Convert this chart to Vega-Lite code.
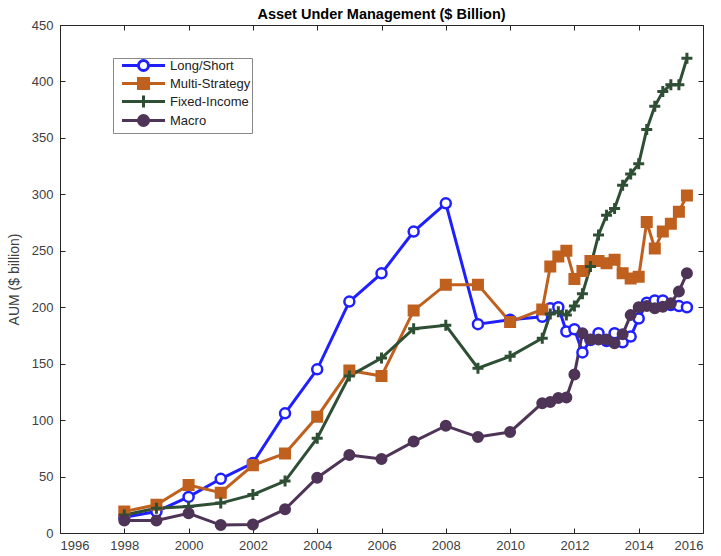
{
  "$schema": "https://vega.github.io/schema/vega-lite/v6.json",
  "width": 643,
  "height": 508,
  "autosize": {"type": "none"},
  "padding": {"left": 60, "top": 25, "right": 18, "bottom": 23},
  "background": "white",
  "config": {
    "view": {"stroke": "#262626", "strokeWidth": 1},
    "font": "Liberation Sans",
    "axis": {"grid": false, "labelFont": "Liberation Sans", "labelFontSize": 13, "labelColor": "#404040", "tickColor": "#262626", "domain": false}
  },
  "title": {"text": "Asset Under Management ($ Billion)", "fontSize": 14.5, "fontWeight": "bold", "font": "Liberation Sans", "color": "#000000", "offset": -3},
  "data": {"values": [
    {"series": "Long/Short", "year": 1998, "value": 14},
    {"series": "Long/Short", "year": 1999, "value": 19},
    {"series": "Long/Short", "year": 2000, "value": 32},
    {"series": "Long/Short", "year": 2001, "value": 48},
    {"series": "Long/Short", "year": 2002, "value": 62},
    {"series": "Long/Short", "year": 2003, "value": 106},
    {"series": "Long/Short", "year": 2004, "value": 145},
    {"series": "Long/Short", "year": 2005, "value": 205},
    {"series": "Long/Short", "year": 2006, "value": 230},
    {"series": "Long/Short", "year": 2007, "value": 267},
    {"series": "Long/Short", "year": 2008, "value": 292},
    {"series": "Long/Short", "year": 2009, "value": 185},
    {"series": "Long/Short", "year": 2010, "value": 189},
    {"series": "Long/Short", "year": 2011, "value": 191.5},
    {"series": "Long/Short", "year": 2011.25, "value": 199},
    {"series": "Long/Short", "year": 2011.5, "value": 200},
    {"series": "Long/Short", "year": 2011.75, "value": 178.5},
    {"series": "Long/Short", "year": 2012, "value": 180.5},
    {"series": "Long/Short", "year": 2012.25, "value": 160},
    {"series": "Long/Short", "year": 2012.5, "value": 171},
    {"series": "Long/Short", "year": 2012.75, "value": 177},
    {"series": "Long/Short", "year": 2013, "value": 170},
    {"series": "Long/Short", "year": 2013.25, "value": 177},
    {"series": "Long/Short", "year": 2013.5, "value": 169},
    {"series": "Long/Short", "year": 2013.75, "value": 174},
    {"series": "Long/Short", "year": 2014, "value": 190},
    {"series": "Long/Short", "year": 2014.25, "value": 204},
    {"series": "Long/Short", "year": 2014.5, "value": 206},
    {"series": "Long/Short", "year": 2014.75, "value": 206},
    {"series": "Long/Short", "year": 2015, "value": 202},
    {"series": "Long/Short", "year": 2015.25, "value": 201},
    {"series": "Long/Short", "year": 2015.5, "value": 200},
    {"series": "Multi-Strategy", "year": 1998, "value": 19},
    {"series": "Multi-Strategy", "year": 1999, "value": 25},
    {"series": "Multi-Strategy", "year": 2000, "value": 42.5},
    {"series": "Multi-Strategy", "year": 2001, "value": 35.7},
    {"series": "Multi-Strategy", "year": 2002, "value": 60},
    {"series": "Multi-Strategy", "year": 2003, "value": 70.5},
    {"series": "Multi-Strategy", "year": 2004, "value": 103},
    {"series": "Multi-Strategy", "year": 2005, "value": 144},
    {"series": "Multi-Strategy", "year": 2006, "value": 139},
    {"series": "Multi-Strategy", "year": 2007, "value": 197},
    {"series": "Multi-Strategy", "year": 2008, "value": 220},
    {"series": "Multi-Strategy", "year": 2009, "value": 220},
    {"series": "Multi-Strategy", "year": 2010, "value": 187},
    {"series": "Multi-Strategy", "year": 2011, "value": 198},
    {"series": "Multi-Strategy", "year": 2011.25, "value": 236},
    {"series": "Multi-Strategy", "year": 2011.5, "value": 245},
    {"series": "Multi-Strategy", "year": 2011.75, "value": 250},
    {"series": "Multi-Strategy", "year": 2012, "value": 225},
    {"series": "Multi-Strategy", "year": 2012.25, "value": 232},
    {"series": "Multi-Strategy", "year": 2012.5, "value": 241},
    {"series": "Multi-Strategy", "year": 2012.75, "value": 241},
    {"series": "Multi-Strategy", "year": 2013, "value": 239},
    {"series": "Multi-Strategy", "year": 2013.25, "value": 242},
    {"series": "Multi-Strategy", "year": 2013.5, "value": 230},
    {"series": "Multi-Strategy", "year": 2013.75, "value": 225.5},
    {"series": "Multi-Strategy", "year": 2014, "value": 227},
    {"series": "Multi-Strategy", "year": 2014.25, "value": 275.5},
    {"series": "Multi-Strategy", "year": 2014.5, "value": 252},
    {"series": "Multi-Strategy", "year": 2014.75, "value": 267},
    {"series": "Multi-Strategy", "year": 2015, "value": 274},
    {"series": "Multi-Strategy", "year": 2015.25, "value": 284.5},
    {"series": "Multi-Strategy", "year": 2015.5, "value": 299},
    {"series": "Fixed-Income", "year": 1998, "value": 16},
    {"series": "Fixed-Income", "year": 1999, "value": 22},
    {"series": "Fixed-Income", "year": 2000, "value": 23.5},
    {"series": "Fixed-Income", "year": 2001, "value": 26.5},
    {"series": "Fixed-Income", "year": 2002, "value": 34},
    {"series": "Fixed-Income", "year": 2003, "value": 46},
    {"series": "Fixed-Income", "year": 2004, "value": 84},
    {"series": "Fixed-Income", "year": 2005, "value": 139},
    {"series": "Fixed-Income", "year": 2006, "value": 155},
    {"series": "Fixed-Income", "year": 2007, "value": 181},
    {"series": "Fixed-Income", "year": 2008, "value": 184},
    {"series": "Fixed-Income", "year": 2009, "value": 146},
    {"series": "Fixed-Income", "year": 2010, "value": 156.5},
    {"series": "Fixed-Income", "year": 2011, "value": 172.5},
    {"series": "Fixed-Income", "year": 2011.25, "value": 194},
    {"series": "Fixed-Income", "year": 2011.5, "value": 196},
    {"series": "Fixed-Income", "year": 2011.75, "value": 193},
    {"series": "Fixed-Income", "year": 2012, "value": 201},
    {"series": "Fixed-Income", "year": 2012.25, "value": 212},
    {"series": "Fixed-Income", "year": 2012.5, "value": 236},
    {"series": "Fixed-Income", "year": 2012.75, "value": 264},
    {"series": "Fixed-Income", "year": 2013, "value": 281.5},
    {"series": "Fixed-Income", "year": 2013.25, "value": 287.5},
    {"series": "Fixed-Income", "year": 2013.5, "value": 308},
    {"series": "Fixed-Income", "year": 2013.75, "value": 318},
    {"series": "Fixed-Income", "year": 2014, "value": 327},
    {"series": "Fixed-Income", "year": 2014.25, "value": 357.5},
    {"series": "Fixed-Income", "year": 2014.5, "value": 378},
    {"series": "Fixed-Income", "year": 2014.75, "value": 391},
    {"series": "Fixed-Income", "year": 2015, "value": 397},
    {"series": "Fixed-Income", "year": 2015.25, "value": 397},
    {"series": "Fixed-Income", "year": 2015.5, "value": 420.5},
    {"series": "Macro", "year": 1998, "value": 11},
    {"series": "Macro", "year": 1999, "value": 11},
    {"series": "Macro", "year": 2000, "value": 17.5},
    {"series": "Macro", "year": 2001, "value": 7},
    {"series": "Macro", "year": 2002, "value": 7.5},
    {"series": "Macro", "year": 2003, "value": 21},
    {"series": "Macro", "year": 2004, "value": 49},
    {"series": "Macro", "year": 2005, "value": 69},
    {"series": "Macro", "year": 2006, "value": 65.5},
    {"series": "Macro", "year": 2007, "value": 81},
    {"series": "Macro", "year": 2008, "value": 95},
    {"series": "Macro", "year": 2009, "value": 85},
    {"series": "Macro", "year": 2010, "value": 89.5},
    {"series": "Macro", "year": 2011, "value": 115},
    {"series": "Macro", "year": 2011.25, "value": 116},
    {"series": "Macro", "year": 2011.5, "value": 119.5},
    {"series": "Macro", "year": 2011.75, "value": 120},
    {"series": "Macro", "year": 2012, "value": 140.5},
    {"series": "Macro", "year": 2012.25, "value": 177},
    {"series": "Macro", "year": 2012.5, "value": 171.5},
    {"series": "Macro", "year": 2012.75, "value": 171.5},
    {"series": "Macro", "year": 2013, "value": 171.5},
    {"series": "Macro", "year": 2013.25, "value": 168},
    {"series": "Macro", "year": 2013.5, "value": 176},
    {"series": "Macro", "year": 2013.75, "value": 193},
    {"series": "Macro", "year": 2014, "value": 200},
    {"series": "Macro", "year": 2014.25, "value": 201},
    {"series": "Macro", "year": 2014.5, "value": 199},
    {"series": "Macro", "year": 2014.75, "value": 200.5},
    {"series": "Macro", "year": 2015, "value": 203.5},
    {"series": "Macro", "year": 2015.25, "value": 214},
    {"series": "Macro", "year": 2015.5, "value": 230}
  ]},
  "resolve": {"axis": {"x": "independent", "y": "independent"}},
  "layer": [
    {
      "mark": {"type": "line", "strokeWidth": 3},
      "encoding": {
        "x": {"field": "year", "type": "quantitative", "scale": {"domain": [1996, 2016], "nice": false, "zero": false},
              "axis": {"orient": "bottom", "values": [1996,1998,2000,2002,2004,2006,2008,2010,2012,2014,2016], "format": "d", "tickSize": -5, "labelPadding": 11, "title": null}},
        "y": {"field": "value", "type": "quantitative", "scale": {"domain": [0, 450], "nice": false},
              "axis": {"orient": "left", "values": [0,50,100,150,200,250,300,350,400,450], "tickSize": -5, "labelPadding": 12, "title": "AUM ($ billion)", "titleFontSize": 14, "titleFontWeight": "normal", "titleColor": "#404040", "titleFont": "Liberation Sans", "titlePadding": 10}},
        "color": {"field": "series", "type": "nominal",
                  "scale": {"domain": ["Long/Short", "Multi-Strategy", "Fixed-Income", "Macro"], "range": ["#1f1fff", "#c0601f", "#2e4f34", "#4e3456"]},
                  "legend": {
                    "orient": "none", "legendX": 53, "legendY": 33, "title": null,
                    "strokeColor": "#888888", "fillColor": "white", "padding": 1,
                    "labelFont": "Liberation Sans", "labelFontSize": 13, "labelColor": "#222222",
                    "symbolSize": 100, "symbolStrokeWidth": 3, "labelOffset": 43, "rowPadding": -6,
                    "encode": {"symbols": {"update": {
                      "shape": {"signal": "datum.value === 'Long/Short' ? 'M0.3,0H3.6M5.6,0H8.9M3.6,0A1,1 0 1,0 5.6,0A1,1 0 1,0 3.6,0' : datum.value === 'Multi-Strategy' ? 'M0.3,0H8.9M3.6,-1H5.6V1H3.6Z' : datum.value === 'Fixed-Income' ? 'M0.3,0H8.9M4.6,-1.2V1.2' : 'M0.3,0H8.9M3.6,0A1,1 0 1,0 5.6,0A1,1 0 1,0 3.6,0'"},
                      "fill": {"signal": "datum.value === 'Long/Short' ? 'white' : datum.value === 'Multi-Strategy' ? '#c0601f' : datum.value === 'Fixed-Income' ? 'transparent' : '#4e3456'"},
                      "stroke": {"signal": "datum.value === 'Long/Short' ? '#1f1fff' : datum.value === 'Multi-Strategy' ? '#c0601f' : datum.value === 'Fixed-Income' ? '#2e4f34' : '#4e3456'"},
                      "strokeWidth": {"value": 3}
                    }}}
                  }}
      }
    },
    {
      "transform": [{"filter": "datum.series === 'Long/Short'"}],
      "mark": {"type": "point", "shape": "circle", "size": 100, "strokeWidth": 2.5, "fill": "#ffffff", "stroke": "#1f1fff", "filled": false, "opacity": 1, "fillOpacity": 1},
      "encoding": {
        "x": {"field": "year", "type": "quantitative", "axis": {"orient": "top", "labels": false, "values": [1996,1998,2000,2002,2004,2006,2008,2010,2012,2014,2016], "tickSize": -5, "title": null}},
        "y": {"field": "value", "type": "quantitative", "axis": {"orient": "right", "labels": false, "values": [0,50,100,150,200,250,300,350,400,450], "tickSize": -5, "title": null}}
      }
    },
    {
      "transform": [{"filter": "datum.series === 'Multi-Strategy'"}],
      "mark": {"type": "point", "shape": "square", "size": 100, "strokeWidth": 2, "fill": "#c0601f", "stroke": "#c0601f", "opacity": 1, "fillOpacity": 1},
      "encoding": {
        "x": {"field": "year", "type": "quantitative", "axis": null},
        "y": {"field": "value", "type": "quantitative", "axis": null}
      }
    },
    {
      "transform": [{"filter": "datum.series === 'Fixed-Income'"}],
      "mark": {"type": "point", "shape": "M-1.1,0H1.1M0,-1.1V1.1", "size": 100, "strokeWidth": 3, "fill": "transparent", "stroke": "#2e4f34", "opacity": 1},
      "encoding": {
        "x": {"field": "year", "type": "quantitative", "axis": null},
        "y": {"field": "value", "type": "quantitative", "axis": null}
      }
    },
    {
      "transform": [{"filter": "datum.series === 'Macro'"}],
      "mark": {"type": "point", "shape": "circle", "size": 100, "strokeWidth": 2, "fill": "#4e3456", "stroke": "#4e3456", "opacity": 1, "fillOpacity": 1},
      "encoding": {
        "x": {"field": "year", "type": "quantitative", "axis": null},
        "y": {"field": "value", "type": "quantitative", "axis": null}
      }
    }
  ]
}
